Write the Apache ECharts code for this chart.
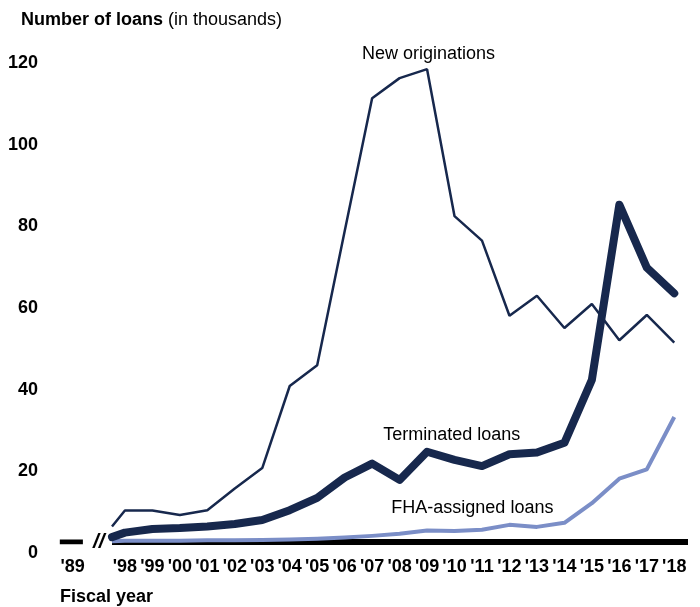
<!DOCTYPE html>
<html>
<head>
<meta charset="utf-8">
<script src="https://cdn.jsdelivr.net/npm/echarts@6/dist/echarts.min.js"></script>
<style>
  html, body { margin: 0; padding: 0; background: #fff; }
  #chart { width: 700px; height: 607px; }
</style>
</head>
<body>
<div id="chart"></div>
<script>
// fiscal years after the axis break ('98 = position 0)
const yearLabels = ["'98", "'99", "'00", "'01", "'02", "'03", "'04", "'05", "'06", "'07",
  "'08", "'09", "'10", "'11", "'12", "'13", "'14", "'15", "'16", "'17", "'18"];
const earlyLabel = "'89";
const earlyPos = -1.9;    // where '89 sits left of the break
const breakPos = -0.95;   // the // mark
const startPos = -0.47;   // lines start just after the break

// thousands of loans
const newOriginations = [7.7, 7.7, 6.6, 7.8, 13.1, 18.1, 38.2, 43.3, 76.1, 108.7,
  113.6, 115.8, 79.8, 73.8, 55.4, 60.3, 52.4, 58.3, 49.4, 55.6, 48.8];
const terminated = [2.3, 3.2, 3.4, 3.8, 4.4, 5.4, 7.8, 10.8, 15.8, 19.2,
  15.2, 22.1, 20.1, 18.6, 21.5, 21.9, 24.3, 39.7, 82.6, 67.2, 60.9];
const fhaAssigned = [0.3, 0.3, 0.3, 0.4, 0.4, 0.5, 0.6, 0.8, 1.1, 1.5,
  2.0, 2.8, 2.7, 3.0, 4.2, 3.7, 4.7, 9.5, 15.5, 17.8, 30.6];
// values at the start of the line, right after the break
const startValues = { newOriginations: 3.8, terminated: 1.2, fhaAssigned: 0.2 };

const navy = '#17284d';
const lightBlue = '#7b8ec7';
const font = 'Liberation Sans, Arial, sans-serif';

function toPairs(start, values) {
  return [[startPos, start]].concat(values.map((v, i) => [i, v]));
}

const xCustom = [earlyPos].concat(yearLabels.map((_, i) => i));

const chart = echarts.init(document.getElementById('chart'));

const option = {
  animation: false,
  textStyle: { fontFamily: font },
  title: {
    left: 16,
    top: 6,
    text: '{b|Number of loans} {n|(in thousands)}',
    textStyle: {
      rich: {
        b: { fontSize: 18, fontWeight: 'bold', color: '#000', fontFamily: font },
        n: { fontSize: 18, fontWeight: 'normal', color: '#000', fontFamily: font }
      }
    }
  },
  grid: { left: 48, right: 12, top: 52, bottom: 65 },
  xAxis: {
    type: 'value',
    min: -2.8,
    max: 20.5,
    axisLine: { show: false },
    axisTick: { show: false },
    splitLine: { show: false },
    axisLabel: {
      customValues: xCustom,
      margin: 16,
      fontSize: 18,
      fontWeight: 'bold',
      color: '#000',
      fontFamily: font,
      formatter: v => (v < 0 ? earlyLabel : yearLabels[Math.round(v)])
    },
    name: 'Fiscal year',
    nameLocation: 'start',
    nameGap: 0,
    nameTextStyle: {
      fontSize: 18, fontWeight: 'bold', color: '#000', fontFamily: font,
      align: 'left', verticalAlign: 'top', padding: [46, 0, 0, 12]
    }
  },
  yAxis: {
    type: 'value',
    min: 0,
    max: 120,
    interval: 20,
    axisLine: { show: false },
    axisTick: { show: false },
    splitLine: { show: false },
    axisLabel: {
      margin: 10,
      fontSize: 18,
      fontWeight: 'bold',
      color: '#000',
      fontFamily: font,
      verticalAlign: 'top',
      padding: [2, 0, 0, 0]
    }
  },
  series: [
    {
      name: 'axis89',
      type: 'line',
      symbol: 'none',
      silent: true,
      z: 1,
      lineStyle: { color: '#000', width: 5, cap: 'butt' },
      data: [[-2.37, 0], [-1.53, 0]],
      markPoint: {
        symbolSize: 0,
        data: [{
          coord: [breakPos, 0],
          label: {
            show: true, formatter: '//', fontSize: 21, fontWeight: 'bold',
            fontStyle: 'italic', color: '#000', fontFamily: font
          }
        }]
      }
    },
    {
      name: 'axisMain',
      type: 'line',
      symbol: 'none',
      silent: true,
      z: 1,
      lineStyle: { color: '#000', width: 6, cap: 'butt' },
      data: [[startPos, 0], [20.5, 0]]
    },
    {
      name: 'FHA-assigned loans',
      type: 'line',
      symbol: 'none',
      z: 3,
      lineStyle: { color: lightBlue, width: 4, join: 'round' },
      data: toPairs(startValues.fhaAssigned, fhaAssigned),
      markPoint: {
        symbolSize: 0,
        data: [{
          coord: [12.65, 8.3],
          label: { show: true, formatter: 'FHA-assigned loans', fontSize: 18, color: '#000', fontFamily: font }
        }]
      }
    },
    {
      name: 'Terminated loans',
      type: 'line',
      symbol: 'none',
      z: 4,
      lineStyle: { color: navy, width: 8, join: 'round', cap: 'round' },
      data: toPairs(startValues.terminated, terminated),
      markPoint: {
        symbolSize: 0,
        data: [{
          coord: [11.9, 26.2],
          label: { show: true, formatter: 'Terminated loans', fontSize: 18, color: '#000', fontFamily: font }
        }]
      }
    },
    {
      name: 'New originations',
      type: 'line',
      symbol: 'none',
      z: 5,
      lineStyle: { color: navy, width: 2.5 },
      data: toPairs(startValues.newOriginations, newOriginations),
      markPoint: {
        symbolSize: 0,
        data: [{
          coord: [11.05, 119.5],
          label: { show: true, formatter: 'New originations', fontSize: 18, color: '#000', fontFamily: font }
        }]
      }
    }
  ]
};

chart.setOption(option);
</script>
</body>
</html>
